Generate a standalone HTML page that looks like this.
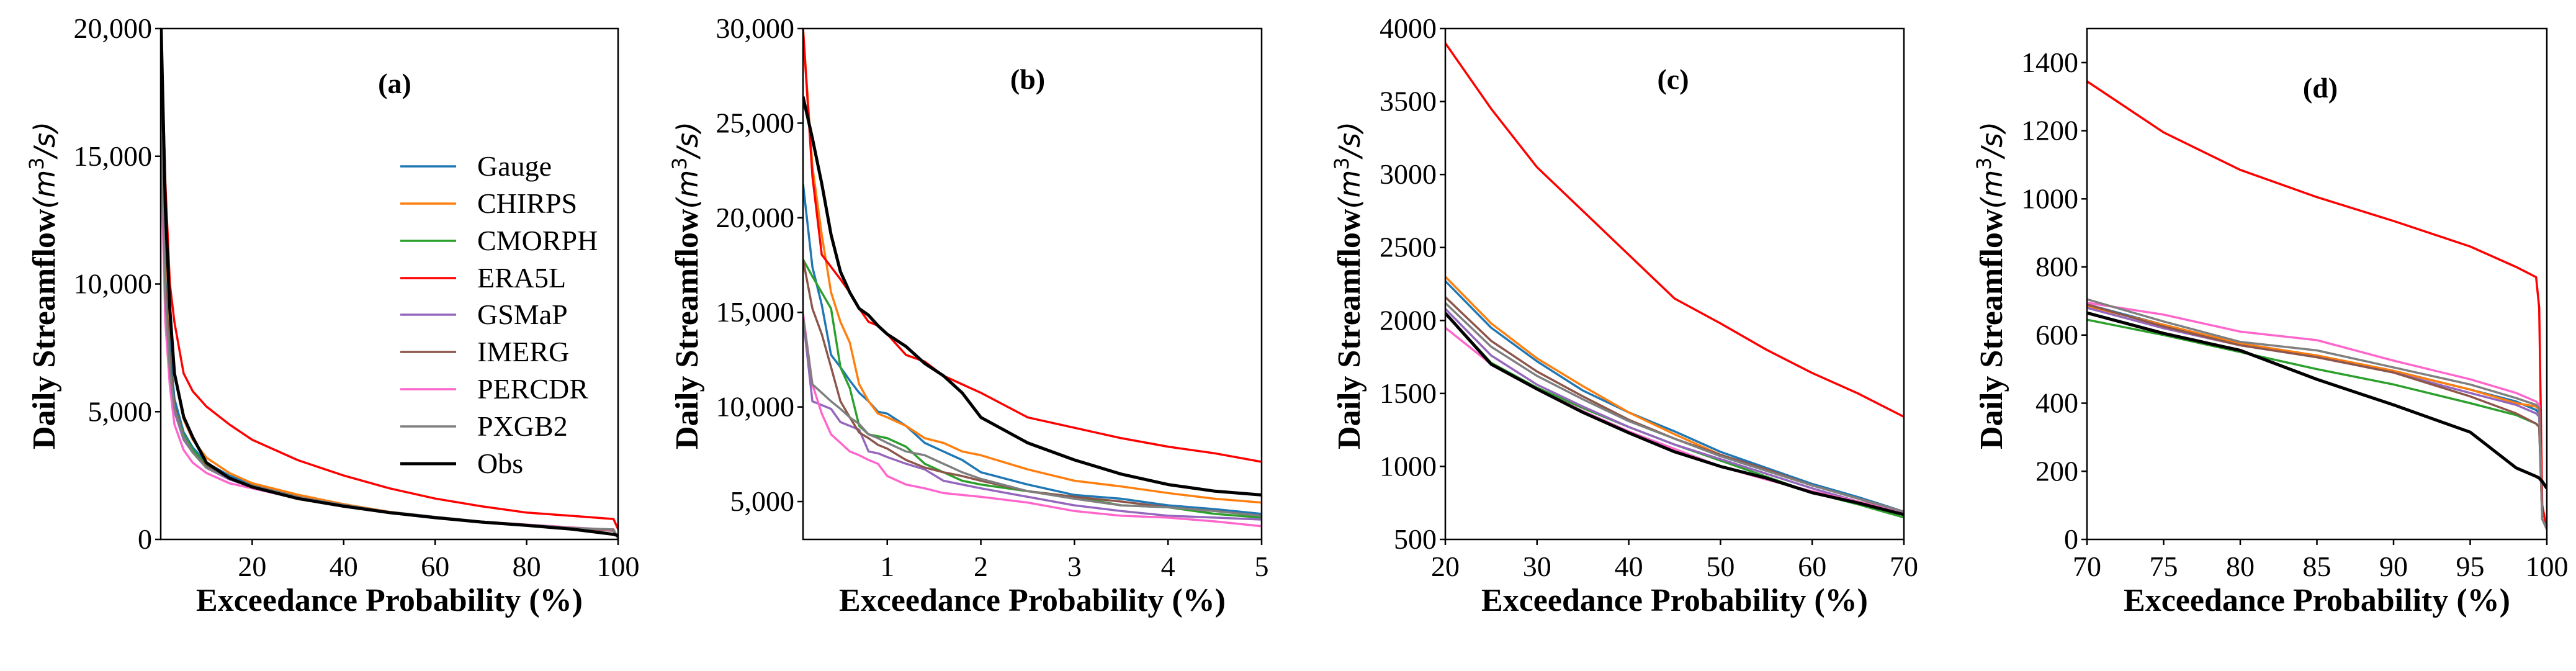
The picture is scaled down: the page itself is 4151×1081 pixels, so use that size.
<!DOCTYPE html>
<html><head><meta charset="utf-8"><style>
html,body{margin:0;padding:0;background:#fff;}
svg{display:block;}
svg text{font-family:'Liberation Serif','Times New Roman','DejaVu Serif',serif;}
</style></head>
<body>
<svg id="fig" width="4151" height="1081" xmlns="http://www.w3.org/2000/svg"></svg>
<script>
const seriesNames = ["Gauge","CHIRPS","CMORPH","ERA5L","GSMaP","IMERG","PERCDR","PXGB2","Obs"];
const seriesColors = ["#1f77b4","#ff7f0e","#2ca02c","#ff0000","#9467bd","#8c564b","#ff66cc","#7f7f7f","#000000"];

const aX = [0.1,1,2,3,5,7,10,15,20,30,40,50,60,70,80,90,99,100];
const aGauge  = [18000,11000,7500,5500,4200,3600,3000,2500,2150,1700,1350,1080,880,700,560,440,380,50];
const aCHIRPS = [20000,12000,8500,6500,4700,3900,3200,2600,2200,1750,1380,1080,870,690,560,440,390,50];
const aCMORPH = [18000,10000,7000,5200,4100,3500,2900,2400,2050,1600,1300,1030,840,670,540,420,340,40];
const aERA5L  = [20000,14000,10000,8500,6500,5800,5200,4500,3900,3100,2500,2000,1600,1300,1050,920,800,400];
const aGSMaP  = [16000,9500,6500,5000,3900,3400,2800,2350,2050,1620,1320,1050,860,690,560,440,390,40];
const aIMERG  = [17000,10000,7000,5200,4000,3400,2850,2400,2100,1650,1340,1060,870,690,560,440,340,40];
const aPERCDR = [15000,8500,6000,4500,3500,3000,2600,2200,2000,1600,1300,1050,870,700,580,470,370,40];
const aPXGB2  = [16000,9500,6600,5100,4000,3400,2800,2400,2100,1650,1350,1070,880,700,570,450,390,40];
const aObs    = [20000,13000,9000,6500,4800,4000,3000,2400,2050,1600,1300,1050,850,680,550,400,200,150];

const bX = [0.1,0.2,0.3,0.4,0.5,0.6,0.7,0.8,0.9,1,1.2,1.4,1.6,1.8,2,2.5,3,3.5,4,4.5,5];
const bGauge  = [21800,17400,15400,12750,12100,11400,10750,10300,9750,9650,9000,8100,7650,7200,6550,5900,5350,5150,4800,4600,4350];
const bCHIRPS = [30000,22700,19100,16050,14500,13400,11200,10300,9650,9450,9000,8350,8100,7650,7450,6700,6100,5800,5450,5150,4950];
const bCMORPH = [17800,16900,16050,15200,12100,11000,9000,8550,8450,8350,7900,7000,6550,6100,5900,5550,5250,4800,4700,4350,4150];
const bERA5L  = [30000,22200,18050,17400,16750,16050,15200,14500,14300,13850,12750,12400,11650,11200,10750,9450,8900,8350,7900,7550,7100];
const bGSMaP  = [14750,10300,10100,9900,9200,9000,8800,7650,7550,7350,7000,6700,6100,5900,5700,5250,4800,4500,4250,4150,4050];
const bIMERG  = [17800,15200,13850,12100,10300,9450,8650,8350,8000,7800,7200,6800,6550,6350,6100,5550,5250,5000,4700,4500,4250];
const bPERCDR = [14950,11200,9650,8550,8100,7650,7450,7200,7000,6350,5900,5700,5450,5350,5250,4950,4500,4250,4150,3950,3700];
const bPXGB2  = [14750,11200,10750,10300,9900,9450,9100,8550,8350,8100,7650,7450,7000,6550,6200,5550,5150,4800,4700,4500,4250];
const bObs    = [26400,24200,21800,19100,17150,16050,15200,14850,14300,13850,13200,12300,11650,10750,9450,8100,7200,6450,5900,5550,5350];

const cX = [20,25,30,35,40,45,50,55,60,65,70];
const cGauge  = [2270,1950,1720,1520,1370,1240,1100,990,880,790,690];
const cCHIRPS = [2300,1980,1740,1550,1370,1220,1080,970,870,780,690];
const cCMORPH = [2050,1710,1540,1400,1270,1150,1040,930,820,740,650];
const cERA5L  = [3900,3450,3050,2750,2450,2150,1980,1800,1640,1500,1340];
const cGSMaP  = [2080,1760,1560,1410,1270,1150,1050,950,850,760,680];
const cIMERG  = [2160,1860,1650,1480,1320,1190,1080,980,870,780,680];
const cPERCDR = [1950,1700,1530,1380,1240,1120,1000,910,830,760,680];
const cPXGB2  = [2120,1820,1620,1460,1310,1190,1070,970,870,780,690];
const cObs    = [2050,1700,1530,1370,1230,1100,1000,920,820,750,670];

const dX = [70,75,80,85,90,95,98,99.3,99.5,99.7,100];
const dGauge  = [690,630,575,540,495,440,405,380,370,60,30];
const dCHIRPS = [685,630,575,540,495,440,400,390,380,60,30];
const dCMORPH = [645,600,550,500,455,400,365,340,330,60,30];
const dERA5L  = [1345,1195,1085,1005,935,860,800,770,680,100,30];
const dGSMaP  = [680,620,570,535,490,430,395,370,360,60,30];
const dIMERG  = [690,625,570,535,490,420,370,340,330,60,30];
const dPERCDR = [695,660,610,585,525,470,430,405,395,60,30];
const dPXGB2  = [705,640,580,555,505,455,415,395,385,60,30];
const dObs    = [665,605,555,470,395,315,210,185,180,170,150];

const aXTicks = [20,40,60,80,100];
const aYTicks = [0,5000,10000,15000,20000];
const bXTicks = [1,2,3,4,5];
const bYTicks = [5000,10000,15000,20000,25000,30000];
const cXTicks = [20,30,40,50,60,70];
const cYTicks = [500,1000,1500,2000,2500,3000,3500,4000];
const dXTicks = [70,75,80,85,90,95,100];
const dYTicks = [0,200,400,600,800,1000,1200,1400];

const NS = "http://www.w3.org/2000/svg";
const SERIF_STYLE = "font-family:'Liberation Serif','Times New Roman','DejaVu Serif',serif";
const svgRoot = document.getElementById('fig');
function el(tag, attrs, parent){
  const e = document.createElementNS(NS, tag);
  for (const k in attrs) e.setAttribute(k, attrs[k]);
  (parent||svgRoot).appendChild(e);
  return e;
}
const plotTop = 46, plotBottom = 869;
const panels = [
  {id:'a', L:259, R:996, xmin:0, xmax:100, ymin:0, ymax:20000, X:aX, S:[aGauge,aCHIRPS,aCMORPH,aERA5L,aGSMaP,aIMERG,aPERCDR,aPXGB2,aObs], xt:aXTicks, yt:aYTicks, comma:true, title:'(a)', tx:636, ty:150, ylx:71},
  {id:'b', L:1294, R:2033, xmin:0.1, xmax:5, ymin:3000, ymax:30000, X:bX, S:[bGauge,bCHIRPS,bCMORPH,bERA5L,bGSMaP,bIMERG,bPERCDR,bPXGB2,bObs], xt:bXTicks, yt:bYTicks, comma:true, title:'(b)', tx:1656, ty:143, ylx:1107},
  {id:'c', L:2329, R:3068, xmin:20, xmax:70, ymin:500, ymax:4000, X:cX, S:[cGauge,cCHIRPS,cCMORPH,cERA5L,cGSMaP,cIMERG,cPERCDR,cPXGB2,cObs], xt:cXTicks, yt:cYTicks, comma:false, title:'(c)', tx:2696, ty:143, ylx:2174},
  {id:'d', L:3363, R:4104, xmin:70, xmax:100, ymin:0, ymax:1500, X:dX, S:[dGauge,dCHIRPS,dCMORPH,dERA5L,dGSMaP,dIMERG,dPERCDR,dPXGB2,dObs], xt:dXTicks, yt:dYTicks, comma:false, title:'(d)', tx:3739, ty:157, ylx:3209}
];
panels.forEach(p=>{
  const g = el('g', {});
  
  
  const xs = v => p.L + (v - p.xmin)/(p.xmax - p.xmin)*(p.R - p.L);
  const ys = v => plotBottom - (v - p.ymin)/(p.ymax - p.ymin)*(plotBottom - plotTop);
  const clip = el('clipPath', {id:'clip-'+p.id}, g);
  el('rect', {x:p.L, y:plotTop, width:p.R-p.L, height:plotBottom-plotTop}, clip);
  p.S.forEach((vals, i)=>{
    const pts = vals.map((v,j)=> xs(p.X[j]).toFixed(1)+','+ys(v).toFixed(1)).join(' ');
    const line = el('polyline', {points:pts, fill:'none', stroke:seriesColors[i], 'stroke-width': i===8?5:3.5, 'stroke-linejoin':'round', 'clip-path':'url(#clip-'+p.id+')'}, g);
    
    
  });
  const frame = el('rect', {x:p.L, y:plotTop, width:p.R-p.L, height:plotBottom-plotTop, fill:'none', stroke:'#000', 'stroke-width':2.5}, g);
  
  
  p.xt.forEach(t=>{
    const x = xs(t);
    el('line', {x1:x, x2:x, y1:plotBottom, y2:plotBottom+9, stroke:'#000', 'stroke-width':2.5}, g);
    const tl = el('text', {x:x, y:928, 'font-size':46, style:SERIF_STYLE, 'text-anchor':'middle'}, g);
    tl.textContent = String(t);
    
    
  });
  p.yt.forEach(t=>{
    const y = ys(t);
    el('line', {x1:p.L-9, x2:p.L, y1:y, y2:y, stroke:'#000', 'stroke-width':2.5}, g);
    const tl = el('text', {x:p.L-14, y:y+15, 'font-size':46, style:SERIF_STYLE, 'text-anchor':'end'}, g);
    tl.textContent = p.comma ? t.toLocaleString('en-US') : String(t);
    
    
  });
  const xl = el('text', {x:(p.L+p.R)/2, y:984, 'font-size':52, style:SERIF_STYLE, 'font-weight':'bold', 'text-anchor':'middle'}, g);
  xl.textContent = 'Exceedance Probability (%)';
  
  
  const yl = el('text', {x:0, y:0, 'font-size':52, style:SERIF_STYLE, 'font-weight':'bold', 'text-anchor':'middle', transform:'translate('+(p.ylx+17)+',460) rotate(-90)'}, g);
  
  
  const t1 = el('tspan', {}, yl); t1.textContent = 'Daily Streamflow';
  const t2 = el('tspan', {'font-weight':'normal',style:'font-family:\'DejaVu Sans\',sans-serif','font-style':'italic','font-size':46}, yl); t2.textContent = '(m';
  const t3 = el('tspan', {'font-weight':'normal',style:'font-family:\'DejaVu Sans\',sans-serif','font-size':32, dy:-18}, yl); t3.textContent = '3';
  const t4 = el('tspan', {'font-weight':'normal',style:'font-family:\'DejaVu Sans\',sans-serif','font-style':'italic','font-size':46, dy:18}, yl); t4.textContent = '/s)';
  const tt = el('text', {x:p.tx, y:p.ty, 'font-size':46, style:SERIF_STYLE, 'font-weight':'bold', 'text-anchor':'middle'}, g);
  tt.textContent = p.title;
  
  
});
const lg = el('g', {});


const legY = [268,328,388,448,507,567,627,687,747];
seriesNames.forEach((n,i)=>{
  const eg = el('g', {}, lg);
  
  
  el('line', {x1:645, x2:735, y1:legY[i], y2:legY[i], stroke:seriesColors[i], 'stroke-width': i===8?5:3.5}, eg);
  const t = el('text', {x:769, y:legY[i]+15, 'font-size':46, style:SERIF_STYLE}, eg);
  t.textContent = n;
});
</script>
</body></html>
